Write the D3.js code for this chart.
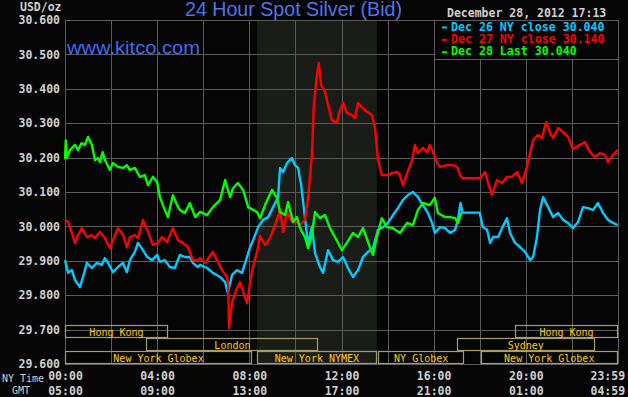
<!DOCTYPE html>
<html>
<head>
<meta charset="utf-8">
<script src="https://cdn.jsdelivr.net/npm/d3@7"></script>
<style>
  body { margin: 0; background: #050505; }
  svg { display: block; }
  .mono { font-family: "DejaVu Sans Mono", "Liberation Mono", monospace; font-weight: bold; }
</style>
</head>
<body>
<div id="chart"></div>
<script>
// times are minutes after 00:00 NY time, prices in USD/oz
var dec26 = [[0,29.902],[8,29.865],[18,29.873],[26,29.844],[39,29.824],[47,29.853],[57,29.894],[70,29.879],
  [83,29.894],[96,29.888],[104,29.908],[112,29.894],[125,29.867],[138,29.882],[151,29.894],[161,29.867],
  [169,29.902],[182,29.926],[190,29.952],[203,29.931],[214,29.911],[227,29.902],[240,29.917],[247,29.897],
  [260,29.902],[273,29.882],[286,29.879],[299,29.917],[312,29.911],[325,29.911],[333,29.894],[346,29.882],
  [352,29.888],[370,29.879],[385,29.865],[404,29.853],[417,29.838],[424,29.806],[435,29.859],[448,29.873],
  [461,29.865],[474,29.911],[482,29.940],[490,29.960],[503,29.998],[516,30.019],[529,30.027],[542,30.056],
  [555,30.085],[560,30.170],[568,30.158],[578,30.184],[591,30.199],[599,30.178],[607,30.170],[615,30.120],
  [620,30.071],[628,29.995],[633,29.946],[643,30.000],[651,29.923],[664,29.882],[672,29.865],[685,29.931],
  [698,29.902],[711,29.897],[724,29.911],[737,29.879],[750,29.853],[763,29.873],[776,29.911],[789,29.926],
  [802,29.937],[815,29.990],[828,29.998],[841,30.010],[854,30.033],[867,30.053],[880,30.077],[893,30.091],
  [906,30.100],[919,30.085],[932,30.062],[945,30.039],[956,30.010],[963,29.981],[977,29.998],[990,29.995],
  [1003,29.981],[1016,29.990],[1023,30.019],[1030,30.068],[1035,30.040],[1080,30.040],[1088,29.998],
  [1099,29.990],[1107,29.952],[1115,29.969],[1128,29.969],[1138,29.995],[1151,30.024],[1159,29.981],
  [1172,29.952],[1185,29.940],[1198,29.926],[1211,29.902],[1219,29.911],[1229,29.969],[1237,30.048],
  [1245,30.085],[1258,30.056],[1271,30.027],[1284,30.039],[1297,30.019],[1310,30.010],[1323,29.995],
  [1336,30.013],[1349,30.056],[1362,30.053],[1375,30.048],[1388,30.068],[1401,30.039],[1414,30.019],
  [1427,30.010],[1439,30.004]];

var dec27 = [[0,30.019],[8,30.013],[13,29.998],[26,29.952],[34,29.975],[44,29.995],[57,29.969],[70,29.975],
  [78,29.966],[91,29.984],[104,29.966],[117,29.937],[125,29.960],[138,29.995],[151,29.975],[161,29.940],
  [169,29.969],[182,29.975],[190,29.966],[203,30.019],[216,29.984],[229,29.946],[242,29.952],[253,29.969],
  [266,29.955],[281,29.995],[294,29.960],[307,29.952],[320,29.940],[333,29.902],[346,29.902],[352,29.908],
  [365,29.894],[385,29.926],[398,29.897],[409,29.873],[422,29.853],[425,29.830],[427,29.705],[435,29.780],
  [448,29.821],[456,29.838],[464,29.809],[474,29.777],[482,29.838],[490,29.885],[500,29.926],[508,29.972],
  [521,29.946],[534,29.966],[547,30.004],[560,30.048],[568,29.984],[578,30.042],[591,30.013],[604,30.013],
  [612,30.004],[625,30.019],[633,30.083],[643,30.208],[648,30.353],[656,30.440],[661,30.475],[667,30.411],
  [677,30.391],[685,30.353],[695,30.309],[708,30.301],[716,30.338],[724,30.359],[734,30.330],[747,30.324],
  [755,30.315],[763,30.359],[773,30.347],[786,30.333],[799,30.324],[807,30.289],[815,30.193],[825,30.149],
  [838,30.149],[852,30.155],[865,30.158],[872,30.149],[880,30.120],[891,30.155],[904,30.193],[911,30.237],
  [919,30.213],[932,30.228],[943,30.216],[950,30.237],[958,30.216],[969,30.184],[977,30.173],[995,30.178],
  [1010,30.178],[1021,30.173],[1029,30.149],[1035,30.140],[1080,30.140],[1094,30.158],[1101,30.129],
  [1112,30.091],[1125,30.135],[1138,30.126],[1151,30.144],[1164,30.144],[1177,30.158],[1190,30.126],
  [1203,30.173],[1211,30.213],[1219,30.251],[1232,30.266],[1242,30.257],[1253,30.303],[1263,30.272],
  [1271,30.257],[1284,30.286],[1297,30.274],[1310,30.260],[1323,30.225],[1341,30.237],[1354,30.245],
  [1367,30.216],[1380,30.202],[1393,30.213],[1406,30.208],[1414,30.187],[1427,30.208],[1439,30.222]];

var dec28 = [[0,30.195],[2,30.250],[5,30.200],[13,30.222],[26,30.237],[34,30.222],[43,30.242],[52,30.237],
  [60,30.260],[70,30.237],[78,30.193],[86,30.199],[91,30.187],[98,30.216],[104,30.193],[117,30.164],
  [125,30.184],[138,30.173],[151,30.170],[161,30.178],[169,30.164],[182,30.170],[195,30.144],[208,30.149],
  [216,30.120],[229,30.144],[240,30.129],[247,30.085],[260,30.048],[268,30.027],[281,30.091],[292,30.062],
  [299,30.048],[312,30.039],[325,30.068],[339,30.027],[352,30.042],[370,30.033],[385,30.056],[404,30.077],
  [417,30.135],[430,30.085],[437,30.110],[450,30.126],[464,30.106],[477,30.056],[490,30.048],[500,30.042],
  [508,30.024],[521,30.062],[539,30.106],[552,30.083],[560,30.042],[573,30.033],[581,30.071],[594,30.013],
  [604,30.027],[612,29.995],[625,29.969],[633,29.937],[643,29.975],[651,30.042],[664,30.024],[677,30.033],
  [690,29.995],[703,29.969],[721,29.931],[734,29.952],[750,29.981],[763,29.969],[776,29.995],[794,29.940],
  [802,29.917],[812,29.969],[825,30.024],[838,29.998],[854,29.995],[872,29.981],[891,30.010],[906,30.004],
  [919,30.048],[932,30.068],[950,30.062],[963,30.083],[971,30.039],[990,30.027],[1003,30.027],[1016,30.024],
  [1023,30.010],[1033,30.040]];

var seriesColors = ["#00ccff", "#ff0000", "#00ff00"];
var legendLabels = ["Dec 26 NY close 30.040", "Dec 27 NY close 30.140", "Dec 28 Last 30.040"];

var priceTicks = [29.6, 29.7, 29.8, 29.9, 30.0, 30.1, 30.2, 30.3, 30.4, 30.5, 30.6];
var timeTicks = [0, 240, 480, 720, 960, 1200, 1439];
var nyLabels = ["00:00", "04:00", "08:00", "12:00", "16:00", "20:00", "23:59"];
var gmtLabels = ["05:00", "09:00", "13:00", "17:00", "21:00", "01:00", "04:59"];

// trading sessions: row 0 = top
var sessions = [
  {name: "Hong Kong", row: 0, start: 0, end: 268},
  {name: "London", row: 1, start: 212, end: 660},
  {name: "New York Globex", row: 2, start: 0, end: 487},
  {name: "New York NYMEX", row: 2, start: 500, end: 812},
  {name: "NY Globex", row: 2, start: 815, end: 1040},
  {name: "Sydney", row: 1, start: 1020, end: 1380},
  {name: "New York Globex", row: 2, start: 1082, end: 1440},
  {name: "Hong Kong", row: 0, start: 1172, end: 1440}
];
var comexOpen = [500, 812];

var W = 628, H = 397;
var margin = {top: 20, right: 618, bottom: 364, left: 65};

var svg = d3.select("#chart").append("svg")
  .attr("width", W).attr("height", H);

svg.append("rect").attr("width", W).attr("height", H).attr("fill", "#050505");

var x = d3.scaleLinear().domain([0, 1440]).range([margin.left, margin.right]);
var y = d3.scaleLinear().domain([29.6, 30.6]).range([margin.bottom, margin.top]);

// comex shading
svg.append("rect")
  .attr("x", x(comexOpen[0])).attr("y", margin.top)
  .attr("width", x(comexOpen[1]) - x(comexOpen[0]))
  .attr("height", margin.bottom - margin.top)
  .attr("fill", "#1a1c18");

// grid
var grid = svg.append("g").attr("stroke", "#5a5a5a").attr("stroke-width", 1).attr("shape-rendering", "crispEdges");
grid.selectAll("line.h").data(priceTicks).enter().append("line")
  .attr("x1", margin.left).attr("x2", margin.right)
  .attr("y1", function(d) { return Math.round(y(d)) + 0.5; })
  .attr("y2", function(d) { return Math.round(y(d)) + 0.5; });
grid.selectAll("line.v").data(d3.range(0, 1441, 120)).enter().append("line")
  .attr("y1", margin.top).attr("y2", margin.bottom)
  .attr("x1", function(d) { return Math.round(x(d)) + 0.5; })
  .attr("x2", function(d) { return Math.round(x(d)) + 0.5; });

// session boxes
var rowH = 13;
var sess = svg.append("g");
sess.selectAll("rect").data(sessions).enter().append("rect")
  .attr("x", function(d) { return Math.round(x(d.start)) + 0.5; })
  .attr("y", function(d) { return margin.bottom - (3 - d.row) * rowH + 0.5; })
  .attr("width", function(d) { return Math.round(x(d.end) - x(d.start)) - 1; })
  .attr("height", rowH - 1)
  .attr("fill", "none")
  .attr("stroke", "#a39d6a")
  .attr("stroke-width", 1.2);
sess.selectAll("text").data(sessions).enter().append("text")
  .attr("x", function(d) { return (x(d.start) + x(d.end)) / 2; })
  .attr("y", function(d) { return margin.bottom - (3 - d.row) * rowH + 10.5; })
  .attr("text-anchor", "middle")
  .attr("font-family", "'DejaVu Sans Mono', monospace")
  .attr("font-size", "10px")
  .attr("fill", "#ffcc00")
  .text(function(d) { return d.name; });

// price lines
var line = d3.line()
  .x(function(d) { return x(d[0]); })
  .y(function(d) { return y(d[1]); });

[dec26, dec27, dec28].forEach(function(s, i) {
  svg.append("path")
    .datum(s)
    .attr("d", line)
    .attr("fill", "none")
    .attr("stroke", seriesColors[i])
    .attr("stroke-width", 2.4)
    .attr("stroke-linejoin", "round");
});

// y axis
svg.append("g")
  .attr("class", "mono")
  .attr("transform", "translate(" + margin.left + ",0)")
  .call(d3.axisLeft(y).tickValues(priceTicks).tickFormat(d3.format(".3f")).tickSize(0).tickPadding(5))
  .call(function(g) { g.select(".domain").remove(); })
  .selectAll("text")
  .attr("fill", "#d0d0d0")
  .attr("font-size", "11.5px")
  .attr("font-family", "'DejaVu Sans Mono', monospace");

// x axes
function timeAxis(labels, ypos) {
  var g = svg.append("g")
    .attr("class", "mono")
    .attr("transform", "translate(0," + ypos + ")")
    .call(d3.axisBottom(x).tickValues(timeTicks)
      .tickFormat(function(d, i) { return labels[i]; }).tickSize(0).tickPadding(3))
    .call(function(g) { g.select(".domain").remove(); });
  g.selectAll("text")
    .attr("fill", "#d0d0d0")
    .attr("font-size", "11.5px")
    .attr("font-family", "'DejaVu Sans Mono', monospace");
  g.selectAll(".tick").filter(function(d) { return d === 1439; }).select("text")
    .attr("text-anchor", "end").attr("x", 7);
}
timeAxis(nyLabels, 369);
timeAxis(gmtLabels, 384);

svg.append("text").attr("x", 2).attr("y", 382)
  .attr("font-family", "'DejaVu Sans Mono', monospace").attr("font-size", "10px")
  .attr("fill", "#d0d0d0").text("NY Time");
svg.append("text").attr("x", 12).attr("y", 394)
  .attr("font-family", "'DejaVu Sans Mono', monospace").attr("font-size", "10px")
  .attr("fill", "#d0d0d0").text("GMT");

svg.append("text").attr("class", "mono").attr("x", 20).attr("y", 11)
  .attr("font-size", "11.5px").attr("fill", "#d0d0d0").text("USD/oz");

// titles
svg.append("text")
  .attr("x", 185).attr("y", 16)
  .attr("font-family", "'Liberation Sans', Arial, sans-serif")
  .attr("font-size", "19.5px")
  .attr("textLength", 217).attr("lengthAdjust", "spacingAndGlyphs")
  .attr("fill", "#4e74ea")
  .text("24 Hour Spot Silver (Bid)");

svg.append("text")
  .attr("x", 67).attr("y", 54)
  .attr("font-family", "'Liberation Sans', Arial, sans-serif")
  .attr("font-size", "17.5px")
  .attr("textLength", 133).attr("lengthAdjust", "spacingAndGlyphs")
  .attr("fill", "#3d6cf2")
  .text("www.kitco.com");

svg.append("text").attr("class", "mono")
  .attr("x", 447).attr("y", 17)
  .attr("font-size", "11.5px").attr("fill", "#d0d0d0")
  .text("December 28, 2012 17:13");

// legend
var legend = svg.append("g");
legend.append("rect")
  .attr("x", 434.5).attr("y", 20.5).attr("width", 184).attr("height", 39)
  .attr("fill", "#050505").attr("stroke", "#5a5a5a");
var item = legend.selectAll("g.item").data(legendLabels).enter().append("g")
  .attr("transform", function(d, i) { return "translate(441," + (30.5 + i * 12.4) + ")"; });
item.append("rect")
  .attr("x", 1).attr("y", -4).attr("width", 5).attr("height", 2)
  .attr("fill", function(d, i) { return seriesColors[i]; });
item.append("text")
  .attr("class", "mono")
  .attr("x", 10)
  .attr("font-size", "11.6px")
  .attr("fill", function(d, i) { return seriesColors[i]; })
  .text(function(d) { return d; });
</script>
</body>
</html>
